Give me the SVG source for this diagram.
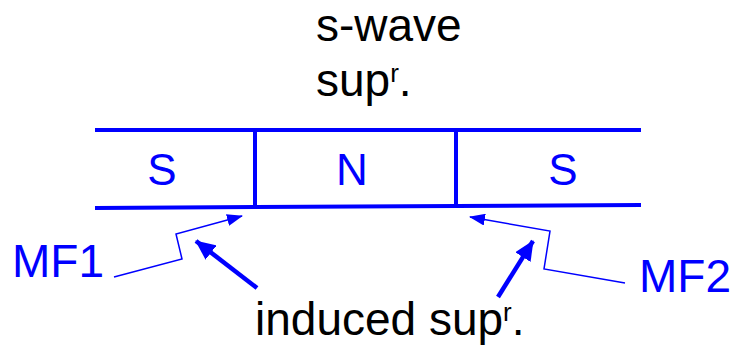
<svg xmlns="http://www.w3.org/2000/svg" width="737" height="345" viewBox="0 0 737 345">
<style>
.b{stroke:#0000ff;stroke-width:4;fill:none}
.thin{stroke:#0000ff;stroke-width:1.5;fill:none}
.thick{stroke:#0000ff;stroke-width:4.5;fill:none}
.bl{font-family:"Liberation Sans",Arial,sans-serif;font-size:46px;fill:#0000ff}
.s{font-size:44px}
.k{font-family:"Liberation Sans",Arial,sans-serif;font-size:46px;fill:#000}
</style>
<defs>
<marker id="ah" markerWidth="16" markerHeight="12" refX="15" refY="6" orient="auto" markerUnits="userSpaceOnUse"><path d="M0,0 L16,6 L0,12 z" fill="#0000ff"/></marker>
<marker id="ah2" markerWidth="20" markerHeight="18" refX="19" refY="9" orient="auto" markerUnits="userSpaceOnUse"><path d="M0,0 L20,9 L0,18 z" fill="#0000ff"/></marker>
</defs>
<g id="junction">
<line class="b" x1="95" y1="130" x2="641" y2="130"/>
<polyline class="b" points="95,208 255,207 456,206 641,205"/>
<line class="b" x1="255" y1="130" x2="255" y2="207"/>
<line class="b" x1="456" y1="130" x2="456" y2="206"/>
</g>
<g id="S1"><text class="bl s" x="162" y="185" text-anchor="middle">S</text></g>
<g id="N"><text class="bl s" x="352" y="185" text-anchor="middle">N</text></g>
<g id="S2"><text class="bl s" x="563" y="185" text-anchor="middle">S</text></g>
<g id="swave"><text class="k" x="316" y="41" font-size="45">s-wave</text><text class="k" x="316" y="96">sup<tspan font-size="26" dy="-14">r</tspan><tspan dy="14">.</tspan></text></g>
<g id="MF1"><text class="bl" x="12" y="277">MF1</text></g>
<g id="MF2"><text class="bl" x="639" y="292">MF2</text></g>
<g id="induced"><text class="k" x="255" y="335">induced sup<tspan font-size="26" dy="-14">r</tspan><tspan dy="14">.</tspan></text></g>
<g id="connectors">
<polyline class="thin" points="114,277 182,259 176,234 242,216" marker-end="url(#ah)"/>
<polyline class="thin" points="625,283 544,269 550,231 470,217" marker-end="url(#ah)"/>
<line class="thick" x1="257" y1="288" x2="196" y2="241" marker-end="url(#ah2)"/>
<line class="thick" x1="498" y1="297" x2="533" y2="241" marker-end="url(#ah2)"/>
</g>
</svg>
